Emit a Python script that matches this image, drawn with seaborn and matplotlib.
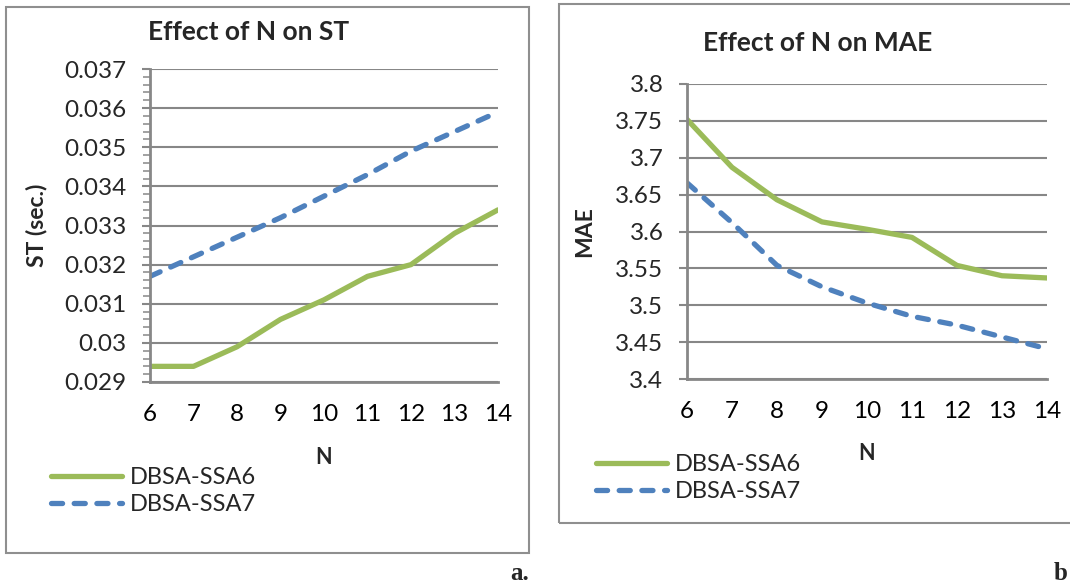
import matplotlib
matplotlib.use('Agg')
import matplotlib.pyplot as plt
import matplotlib.patches as patches
from matplotlib.ticker import MultipleLocator, FixedLocator
import seaborn as sns
import pandas as pd

n_values = [6, 7, 8, 9, 10, 11, 12, 13, 14]
series_names = ['DBSA-SSA6', 'DBSA-SSA7']

st_ssa6 = [0.0294, 0.0294, 0.0299, 0.0306, 0.0311, 0.0317, 0.0320, 0.0328, 0.0334]
st_ssa7 = [0.0317, 0.0322, 0.0327, 0.0332, 0.03375, 0.0343, 0.0349, 0.0354, 0.0359]
st_ticks = [0.029, 0.030, 0.031, 0.032, 0.033, 0.034, 0.035, 0.036, 0.037]
st_tick_labels = ['0.029', '0.03', '0.031', '0.032', '0.033', '0.034', '0.035', '0.036', '0.037']

mae_ssa6 = [3.752, 3.687, 3.643, 3.613, 3.603, 3.592, 3.554, 3.540, 3.537]
mae_ssa7 = [3.666, 3.612, 3.554, 3.525, 3.503, 3.485, 3.473, 3.457, 3.441]
mae_ticks = [3.4, 3.45, 3.5, 3.55, 3.6, 3.65, 3.7, 3.75, 3.8]
mae_tick_labels = ['3.4', '3.45', '3.5', '3.55', '3.6', '3.65', '3.7', '3.75', '3.8']

GREEN = '#9BBB59'
BLUE = '#4F81BD'
GRAY = '#878787'

sns.set_style('white')
plt.rcParams['font.family'] = ['Lato', 'DejaVu Sans']

W, H = 1070, 585
fig = plt.figure(figsize=(W / 100, H / 100), dpi=100)


def fx(px):
    return px / W


def fy(py):
    return 1 - py / H


def box(x0, y0, x1, y1):
    # axes rect from pixel corners (top-left origin)
    return [fx(x0), fy(y1), (x1 - x0) / W, (y1 - y0) / H]


def long_df(a, b):
    return pd.DataFrame({
        'N': n_values * 2,
        'value': a + b,
        'series': [series_names[0]] * len(a) + [series_names[1]] * len(b),
    })


def draw_panel(rect, df, ticks, tick_labels, ylabel, ylabel_x, xlabel_y, title, title_xy, legend_xy, minor=None):
    ax = fig.add_axes(rect)
    sns.lineplot(data=df, x='N', y='value', hue='series', style='series',
                 palette={series_names[0]: GREEN, series_names[1]: BLUE},
                 dashes={series_names[0]: '', series_names[1]: (2.1, 2.2)},
                 linewidth=3.8, dash_capstyle='round', solid_capstyle='round', ax=ax)
    ax.set_xlim(n_values[0], n_values[-1])
    ax.set_ylim(ticks[0], ticks[-1])
    ax.set_xticks(n_values)
    ax.set_xticklabels([str(n) for n in n_values], fontsize=17.5)
    ax.yaxis.set_major_locator(FixedLocator(ticks))
    ax.set_yticklabels(tick_labels, fontsize=17.5)
    if minor is not None:
        ax.yaxis.set_minor_locator(MultipleLocator(minor))
        ax.tick_params(axis='y', which='minor', left=True, length=5, width=1.1, color=GRAY)
    ax.tick_params(axis='x', length=0, pad=16, labelcolor='black')
    ax.tick_params(axis='y', which='major', left=True, length=6, width=1.5, color=GRAY, pad=11)
    ax.grid(axis='y', color=GRAY, linewidth=1.5)
    ax.grid(axis='x', visible=False)
    for side in ['top', 'right']:
        ax.spines[side].set_visible(False)
    for side in ['left', 'bottom']:
        ax.spines[side].set_color(GRAY)
        ax.spines[side].set_linewidth(2)
    ax.set_axisbelow(True)
    ax.set_xlabel('N', fontsize=15.5, fontweight='bold')
    ax.xaxis.set_label_coords(0.5, xlabel_y)
    ax.set_ylabel(ylabel, fontsize=16.5, fontweight='bold')
    ax.yaxis.set_label_coords(ylabel_x, 0.5)
    fig.text(fx(title_xy[0]), fy(title_xy[1]), title, fontsize=19, fontweight='bold',
             ha='center', va='center')
    sns.move_legend(ax, 'center left', bbox_to_anchor=(fx(legend_xy[0]), fy(legend_xy[1])),
                    bbox_transform=fig.transFigure, frameon=False, title=None,
                    fontsize=17, handlelength=3.0, handletextpad=0.35,
                    labelspacing=0.27, borderpad=0, borderaxespad=0)
    return ax


# panel frames
fig.patches.append(patches.Rectangle((fx(6), fy(553)), 523 / W, 546 / H, transform=fig.transFigure,
                                     fill=False, edgecolor='#8f8f8f', linewidth=1.5))
fig.patches.append(patches.Rectangle((fx(559), fy(523)), 530 / W, 519 / H, transform=fig.transFigure,
                                     fill=False, edgecolor='#8f8f8f', linewidth=1.5))

draw_panel(box(150, 69, 498, 382), long_df(st_ssa6, st_ssa7),
           st_ticks, st_tick_labels, 'ST (sec.)', -0.296, -0.208,
           'Effect of N on ST', (249, 32), (51, 491), minor=0.0002)

draw_panel(box(687, 84, 1047, 379), long_df(mae_ssa6, mae_ssa7),
           mae_ticks, mae_tick_labels, 'MAE', -0.256, -0.217,
           'Effect of N on MAE', (818, 43), (596, 478))

fig.text(fx(510), fy(573), 'a.', fontsize=18, fontweight='bold', family='Liberation Serif',
         ha='left', va='center')
fig.text(fx(1068), fy(573), 'b', fontsize=18, fontweight='bold', family='Liberation Serif',
         ha='right', va='center')

fig.savefig('out.png', dpi=100)
